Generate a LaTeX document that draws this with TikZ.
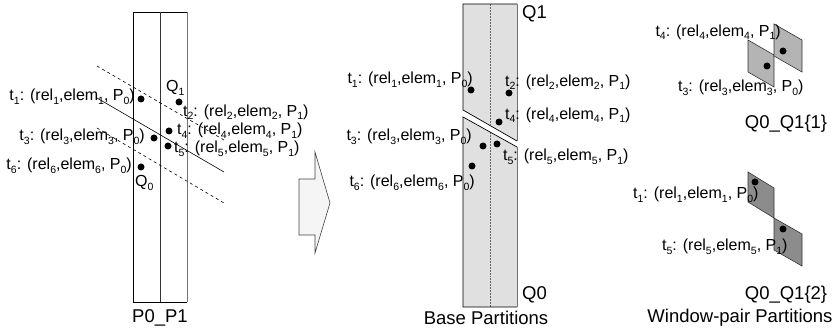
\documentclass[tikz,border=0pt]{standalone}
\usepackage{fontspec}
\setmainfont{Liberation Sans}
\newcommand{\sbx}[1]{\raisebox{-0.22em}{\fontsize{10.5}{10.5}\selectfont #1}}
\definecolor{panelgray}{HTML}{E0E0E0}
\definecolor{lightpar}{HTML}{B4B4B4}
\definecolor{darkpar}{HTML}{8C8C8C}
\definecolor{arrowfill}{HTML}{F5F5F5}
\begin{document}
\begin{tikzpicture}[x=1pt,y=-1pt,
  tup/.style={inner sep=0pt, font=\fontsize{16}{18}\selectfont},
  big/.style={inner sep=0pt, font=\fontsize{18.5}{20}\selectfont},
  dot/.style={circle, fill=black, inner sep=0pt, minimum size=7pt},
  border/.style={draw=black, line width=0.7pt},
  grayedge/.style={draw=black!55, line width=0.7pt},
  par1/.style={fill=lightpar, draw=black!80, line width=0.6pt},
  par2/.style={fill=darkpar, draw=black!80, line width=0.6pt},
  cutline/.style={line width=0.6pt},
]
\useasboundingbox (0,0) rectangle (837,328);

% ---------- left panel ----------
\draw[border] (187,12) -- (133,12) -- (133,302) -- (187,302);
\draw[draw=black!80, line width=0.7pt] (160,12) -- (160,302);
\draw[grayedge] (187,12) -- (187,302);

\coordinate (ud1) at (97,66);  \coordinate (ud2) at (224,140);
\coordinate (so1) at (97,98);  \coordinate (so2) at (224,172);
\coordinate (ld1) at (97,128); \coordinate (ld2) at (224,203);
\draw[cutline, dashed] (ud1) -- (ud2);
\draw[cutline] (so1) -- (so2);
\draw[cutline, dashed] (ld1) -- (ld2);

\node[dot] (Lt1) at (141,99) {};
\node[dot] (Lt2) at (179,102) {};
\node[dot] (Lt4) at (169,131) {};
\node[dot] (Lt3) at (154,138) {};
\node[dot] (Lt5) at (168,146) {};
\node[dot] (Lt6) at (141,167) {};

\node[tup, anchor=east] (Ll1) at (135,97) {t\sbx{1}: (rel\sbx{1},elem\sbx{1}, P\sbx{0})};
\node[tup, anchor=west] (Lq1) at (166,88) {Q\sbx{1}};
\node[tup, anchor=west] (Ll2) at (183,112) {t\sbx{2}: (rel\sbx{2},elem\sbx{2}, P\sbx{1})};
\node[tup, anchor=west] (Ll4) at (177,130.5) {t\sbx{4}: (rel\sbx{4},elem\sbx{4}, P\sbx{1})};
\node[tup, anchor=east] (Ll3) at (145,137) {t\sbx{3}: (rel\sbx{3},elem\sbx{3}, P\sbx{0})};
\node[tup, anchor=west] (Ll5) at (174,149) {t\sbx{5}: (rel\sbx{5},elem\sbx{5}, P\sbx{1})};
\node[tup, anchor=east] (Ll6) at (132,166) {t\sbx{6}: (rel\sbx{6},elem\sbx{6}, P\sbx{0})};
\node[tup, anchor=west] (Lq0) at (135,183) {Q\sbx{0}};
\node[big] (Lcap) at (160,318) {P0\_P1};

% ---------- block arrow ----------
\draw[fill=arrowfill, draw=black!75, line width=0.6pt]
  (299,179) -- (315,179) -- (315,152) -- (330,203) -- (315,253) -- (315,235) -- (299,235) -- cycle;

% ---------- middle panel ----------
\fill[panelgray] (463,4) -- (517,4) -- (517,141) -- (463,110) -- cycle;
\fill[panelgray] (463,117) -- (517,147) -- (517,307) -- (463,307) -- cycle;
\draw[black!60, densely dotted, line width=0.5pt] (490,4) -- (490,125.5);
\draw[black!60, densely dotted, line width=0.5pt] (490,132) -- (490,307);
\draw[border] (517,141) -- (463,110) -- (463,4) -- (517,4);
\draw[border] (517,307) -- (463,307) -- (463,117) -- (517,147);
\draw[grayedge] (517,4) -- (517,141);
\draw[grayedge] (517,147) -- (517,307);

\node[dot] (Mt1) at (471,90) {};
\node[dot] (Mt2) at (509,93) {};
\node[dot] (Mt4) at (499,122) {};
\node[dot] (Mt3) at (483,146) {};
\node[dot] (Mt5) at (497,144) {};
\node[dot] (Mt6) at (472,166) {};

\node[tup, anchor=east] (Ml1) at (473,80) {t\sbx{1}: (rel\sbx{1},elem\sbx{1}, P\sbx{0})};
\node[tup, anchor=west] (Ml2) at (505,82) {t\sbx{2}: (rel\sbx{2},elem\sbx{2}, P\sbx{1})};
\node[tup, anchor=west] (Ml4) at (505,115) {t\sbx{4}: (rel\sbx{4},elem\sbx{4}, P\sbx{1})};
\node[tup, anchor=east] (Ml3) at (472,137) {t\sbx{3}: (rel\sbx{3},elem\sbx{3}, P\sbx{0})};
\node[tup, anchor=west] (Ml5) at (503,157) {t\sbx{5}: (rel\sbx{5},elem\sbx{5}, P\sbx{1})};
\node[tup, anchor=east] (Ml6) at (475,183) {t\sbx{6}: (rel\sbx{6},elem\sbx{6}, P\sbx{0})};
\node[big, anchor=west] (Mq1) at (522,14) {Q1};
\node[big, anchor=west] (Mq0) at (522,295) {Q0};
\node[big] (Mcap) at (486,318) {Base Partitions};

% ---------- right panel ----------
\draw[par1] (748,40) -- (774,55) -- (774,87) -- (748,72) -- cycle;
\draw[par1] (774,24) -- (802,40) -- (802,72) -- (774,56) -- cycle;
\node[dot] (Rt3) at (767,66) {};
\node[dot] (Rt4) at (783,51) {};
\node[tup, anchor=east] (Rl4) at (781,32) {t\sbx{4}: (rel\sbx{4},elem\sbx{4}, P\sbx{1})};
\node[tup, anchor=west] (Rl3) at (678,88) {t\sbx{3}: (rel\sbx{3},elem\sbx{3}, P\sbx{0})};
\node[big] (Rc1) at (786,124) {Q0\_Q1\{1\}};

\draw[par2] (748,172) -- (774,188) -- (774,218) -- (748,202) -- cycle;
\draw[par2] (774,218) -- (802,234) -- (802,266) -- (774,250) -- cycle;
\node[dot] (Rt1) at (755,182) {};
\node[dot] (Rt5) at (783,229) {};
\node[tup, anchor=west] (Rl1) at (633,195) {t\sbx{1}: (rel\sbx{1},elem\sbx{1}, P\sbx{0})};
\node[tup, anchor=west] (Rl5) at (662,247) {t\sbx{5}: (rel\sbx{5},elem\sbx{5}, P\sbx{1})};
\node[big] (Rc2) at (786,295) {Q0\_Q1\{2\}};
\node[big] (Rcap) at (740,318) {Window-pair Partitions};
\end{tikzpicture}
\end{document}
